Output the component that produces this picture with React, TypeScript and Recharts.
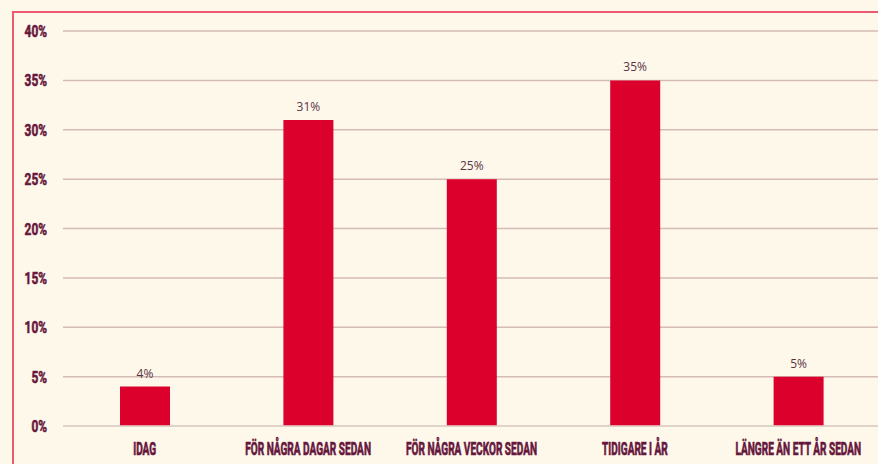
import { Bar, BarChart, CartesianGrid, LabelList, XAxis, YAxis } from "recharts";

// Andel svar per kategori (%).
const CATEGORIES = [
  "IDAG",
  "FÖR NÅGRA DAGAR SEDAN",
  "FÖR NÅGRA VECKOR SEDAN",
  "TIDIGARE I ÅR",
  "LÄNGRE ÄN ETT ÅR SEDAN",
];
const VALUES = [4, 31, 25, 35, 5];
const Y_TICKS = [0, 5, 10, 15, 20, 25, 30, 35, 40];

const BG = "#fef8eb";
const RED = "#dc002c";
const INK = "#66173c";
const FONT = "Roboto, sans-serif";

const data = CATEGORIES.map((name, i) => ({ name, value: VALUES[i] }));

// Smal, fet rubrikstil: ingen condensed-font finns, så vi trycker ihop texten i x-led
// och ger den en tunn kontur för att den ska se lika tung ut.
const XTick = ({ x, y, payload }: any) => (
  <text
    transform={`translate(${x},${y}) scale(0.56,1)`}
    textAnchor="middle"
    dy="0.71em"
    fontSize={18}
    fontWeight={700}
    fill={INK}
    stroke={INK}
    strokeWidth={0.7}
    fontFamily={FONT}
  >
    {payload.value}
  </text>
);

const YTick = ({ x, y, payload }: any) => (
  <text
    transform={`translate(${x},${y}) scale(0.7,1)`}
    textAnchor="end"
    dy="0.355em"
    fontSize={17}
    fontWeight={700}
    fill={INK}
    stroke={INK}
    strokeWidth={0.6}
    fontFamily={FONT}
  >
    {`${payload.value}%`}
  </text>
);

const App = () => (
  <div
    style={{
      position: "fixed",
      left: 0,
      top: 0,
      width: 878,
      height: 464,
      overflow: "hidden",
      background: BG,
    }}
  >
    <div
      style={{
        position: "absolute",
        left: 12,
        top: 11,
        width: 900,
        height: 500,
        borderLeft: "2px solid #ec5a72",
        borderTop: "2px solid #ec5a72",
      }}
    />
    <div style={{ position: "absolute", left: 0, top: 0 }}>
      <BarChart
        width={880}
        height={464}
        data={data}
        margin={{ top: 31, right: 0, left: 0, bottom: 0 }}
        barSize={50}
      >
        <CartesianGrid vertical={false} stroke="#d5bab6" strokeWidth={1.5} />
        <XAxis
          dataKey="name"
          axisLine={{ stroke: "#e2d6cc", strokeWidth: 1.5 }}
          tickLine={false}
          tickSize={0}
          tickMargin={16}
          height={38}
          interval={0}
          tick={<XTick />}
        />
        <YAxis
          domain={[0, 40]}
          ticks={Y_TICKS}
          axisLine={false}
          tickLine={false}
          tickSize={0}
          tickMargin={16}
          width={63}
          tick={<YTick />}
        />
        <Bar dataKey="value" fill={RED} isAnimationActive={false}>
          <LabelList
            dataKey="value"
            position="top"
            offset={9}
            formatter={(v: number) => `${v}%`}
            style={{ fontSize: 12, fill: "#5b3344", fontFamily: "'Open Sans', sans-serif" }}
          />
        </Bar>
      </BarChart>
    </div>
  </div>
);

export default App;
